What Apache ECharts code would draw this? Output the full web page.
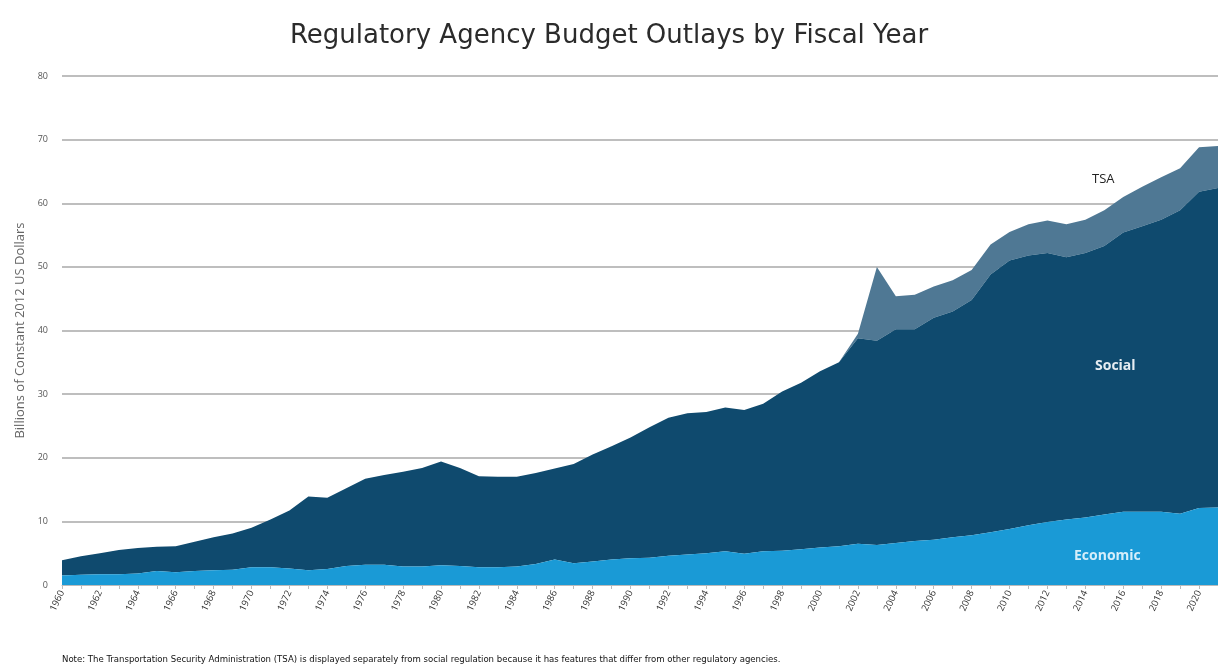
<!DOCTYPE html>
<html>
<head>
<meta charset="utf-8">
<script src="https://cdn.jsdelivr.net/npm/echarts@6/dist/echarts.min.js"></script>
<style>
html,body{margin:0;padding:0;background:#fff;}
#chart{width:1218px;height:670px;}
</style>
</head>
<body>
<div id="chart"></div>
<script>
const years = [];
for (let y = 1960; y <= 2021; y++) years.push(String(y));

// Economic regulation outlays (billions, constant 2012 USD)
const economic = [
 1.5,1.6,1.7,1.7,1.8,2.2,2.0,2.2,2.3,2.4,
 2.8,2.8,2.6,2.3,2.5,3.0,3.2,3.2,2.9,2.9,
 3.1,3.0,2.8,2.8,2.9,3.3,4.0,3.4,3.7,4.0,
 4.2,4.3,4.6,4.8,5.0,5.3,4.9,5.3,5.4,5.6,
 5.9,6.1,6.5,6.3,6.6,6.9,7.1,7.5,7.8,8.3,
 8.8,9.4,9.9,10.3,10.6,11.1,11.5,11.5,11.5,11.2,
 12.1,12.2
];
// Social regulation outlays
const social = [
 2.4,2.9,3.3,3.8,4.0,3.8,4.1,4.6,5.2,5.7,
 6.2,7.5,9.1,11.6,11.2,12.2,13.5,14.1,14.9,15.5,
 16.3,15.4,14.3,14.2,14.1,14.3,14.3,15.6,16.8,17.8,
 19.0,20.5,21.7,22.2,22.2,22.6,22.6,23.2,25.0,26.2,
 27.7,28.9,32.3,32.1,33.6,33.3,34.9,35.5,37.0,40.5,
 42.2,42.4,42.3,41.2,41.6,42.2,43.9,44.9,45.9,47.7,
 49.7,50.2
];
// Transportation Security Administration outlays
const tsa = [
 0,0,0,0,0,0,0,0,0,0,
 0,0,0,0,0,0,0,0,0,0,
 0,0,0,0,0,0,0,0,0,0,
 0,0,0,0,0,0,0,0,0,0,
 0,0,0.7,11.6,5.2,5.4,4.9,4.9,4.7,4.7,
 4.5,4.9,5.1,5.2,5.2,5.6,5.6,6.2,6.7,6.6,
 7.0,6.6
];

const chart = echarts.init(document.getElementById('chart'), null, {renderer:'canvas'});
const font = 'Open Sans, Lato, sans-serif';
chart.setOption({
  animation: false,
  backgroundColor: '#fff',
  title: {
    text: 'Regulatory Agency Budget Outlays by Fiscal Year',
    left: 'center', top: 18,
    textStyle: {fontFamily: 'DejaVu Sans, sans-serif', fontSize: 26, fontWeight: 'normal', color: '#2b2b2b'}
  },
  grid: {left: 62, right: 0, top: 76, bottom: 85, containLabel: false},
  xAxis: {
    type: 'category', data: years, boundaryGap: false,
    axisLine: {show: true, lineStyle: {color: '#bbb'}},
    axisTick: {show: true, interval: 0, length: 4, lineStyle: {color: '#bbb'}},
    axisLabel: {interval: 1, rotate: 65, fontSize: 9.5, color: '#333', fontFamily: font, margin: 6},
    splitLine: {show: false}
  },
  yAxis: {
    type: 'value', min: 0, max: 80, interval: 10,
    name: 'Billions of Constant 2012 US Dollars', nameLocation: 'middle', nameGap: 30,
    nameTextStyle: {fontFamily: font, fontSize: 13, color: '#666'},
    axisLine: {show: false}, axisTick: {show: false},
    axisLabel: {fontSize: 9, color: '#555', fontFamily: font, margin: 14},
    splitLine: {lineStyle: {color: '#a8a8a8', width: 1.5}}
  },
  series: [
    {name: 'Economic', type: 'line', stack: 'total', data: economic, symbol: 'none',
     lineStyle: {width: 0}, areaStyle: {color: '#1a9ad6', opacity: 1}, z: 3},
    {name: 'Social', type: 'line', stack: 'total', data: social, symbol: 'none',
     lineStyle: {width: 0}, areaStyle: {color: '#0f4a6e', opacity: 1}, z: 2},
    {name: 'TSA', type: 'line', stack: 'total', data: tsa, symbol: 'none',
     lineStyle: {width: 0}, areaStyle: {color: '#4f7894', opacity: 1}, z: 1}
  ],
  graphic: [
    {type: 'text', z: 100, left: 1092, top: 173, style: {text: 'TSA', fontFamily: font, fontSize: 13, fill: '#222'}},
    {type: 'text', z: 100, left: 1095, top: 359, style: {text: 'Social', fontFamily: font, fontSize: 14, fontWeight: 'bold', fill: '#e6edf2'}},
    {type: 'text', z: 100, left: 1074, top: 549, style: {text: 'Economic', fontFamily: font, fontSize: 14, fontWeight: 'bold', fill: '#d6eefa'}},
    {type: 'text', z: 100, left: 62, top: 655, style: {
      text: 'Note: The Transportation Security Administration (TSA) is displayed separately from social regulation because it has features that differ from other regulatory agencies.',
      fontFamily: 'Liberation Sans Narrow, DejaVu Sans Condensed, sans-serif', fontSize: 9.5, fill: '#111'}}
  ]
});
</script>
</body>
</html>
